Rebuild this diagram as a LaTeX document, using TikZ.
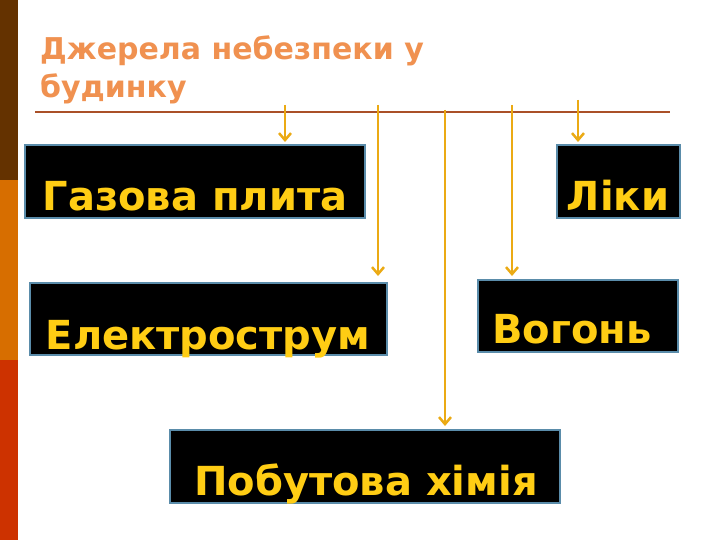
\documentclass[tikz,border=0pt]{standalone}
\usepackage{fontspec}
\setmainfont{DejaVu Sans}
\usetikzlibrary{arrows.meta}
\definecolor{cbrown}{RGB}{100,50,0}
\definecolor{corange}{RGB}{215,110,0}
\definecolor{cred}{RGB}{205,50,0}
\definecolor{ctitle}{RGB}{240,145,80}
\definecolor{cline}{RGB}{170,80,40}
\definecolor{cbox}{RGB}{90,140,170}
\definecolor{clab}{RGB}{255,205,20}
\definecolor{carr}{RGB}{235,170,20}
\begin{document}
\begin{tikzpicture}[x=1pt,y=-1pt,
 box/.style={fill=black,draw=cbox,line width=1.2pt},
 lab/.style={text=clab,font=\bfseries\fontsize{40}{40}\selectfont,inner sep=0pt},
 arr/.style={draw=carr,line width=2.5pt,-{Straight Barb[length=7pt,width=12pt]}}]
\useasboundingbox (0,0) rectangle (720,540);
\fill[white] (0,0) rectangle (720,540);
\fill[cbrown] (0,0) rectangle (18,180);
\fill[corange] (18,180) rectangle (0,360);
\fill[cred] (0,360) rectangle (18,540);
\node[anchor=west,align=left,inner sep=0pt,text=ctitle,font=\bfseries\fontsize{30}{38}\selectfont] (t) at (40,70) {Джерела небезпеки у\\будинку};
\draw[cline,line width=1.2pt] (35,112) -- (670,112);
\draw[box] (25,145) rectangle (365,218);
\draw[box] (557,145) rectangle (680,218);
\draw[box] (30,283) rectangle (387,355);
\draw[box] (478,280) rectangle (678,352);
\draw[box] (170,430) rectangle (560,503);
\node[lab,anchor=base] (g) at (195,211) {Газова плита};
\node[lab,anchor=base] (l) at (618,211) {Ліки};
\node[lab,anchor=base] (e) at (208,349) {Електрострум};
\node[lab,anchor=base] (v) at (572,343) {Вогонь};
\node[lab,anchor=base] (p) at (366,495) {Побутова хімія};
\coordinate (a1) at (285,105); \coordinate (b1) at (285,142);
\coordinate (a2) at (378,105); \coordinate (b2) at (378,276);
\coordinate (a3) at (445,110); \coordinate (b3) at (445,426);
\coordinate (a4) at (512,105); \coordinate (b4) at (512,276);
\coordinate (a5) at (578,100); \coordinate (b5) at (578,142);
\foreach \i in {1,...,5}{\draw[arr] (a\i) -- (b\i);}
\end{tikzpicture}
\end{document}
